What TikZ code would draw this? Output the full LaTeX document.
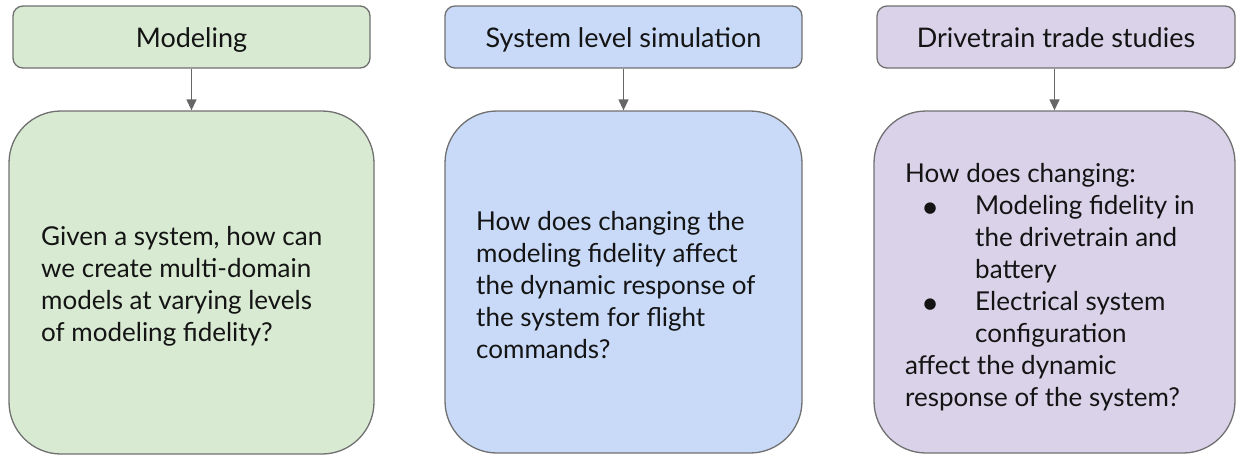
\documentclass[tikz,border=0pt]{standalone}
\usepackage{fontspec}
\setmainfont{Lato}
\newfontfamily\dejavu{DejaVu Sans}
\usetikzlibrary{arrows.meta}
\definecolor{gfill}{HTML}{D9EAD3}
\definecolor{bfill}{HTML}{C9DAF8}
\definecolor{pfill}{HTML}{D9D2E9}
\definecolor{bordc}{HTML}{707070}
\definecolor{arrc}{HTML}{666666}
\definecolor{txtc}{HTML}{141414}
\newcommand{\bul}{\makebox[0pt][c]{\raisebox{1.5pt}{\dejavu\fontsize{15}{15}\selectfont ●}}}
\tikzset{
  headbox/.style={draw=bordc, line width=1.3pt, rounded corners=10pt, minimum width=357pt, minimum height=62pt, inner sep=0pt, text height=25pt, text depth=5pt, font=\fontsize{27}{32}\selectfont, text=txtc},
  bodybox/.style={draw=bordc, line width=1.3pt, rounded corners=52pt, inner sep=0pt},
  bodytext/.style={anchor=base west, inner sep=0pt, font=\fontsize{26}{32}\selectfont, text=txtc},
  conn/.style={draw=arrc, line width=1.3pt, -{Triangle[width=10pt,length=11pt]}}
}
\begin{document}
\begin{tikzpicture}[x=1pt,y=-1pt]
\useasboundingbox (0,0) rectangle (1236,455);
% header boxes
\node[headbox, fill=gfill] (h1) at (191.5,37) {Modeling};
\node[headbox, fill=bfill] (h2) at (623.5,37) {System level simulation};
\node[headbox, fill=pfill, minimum width=358pt] (h3) at (1056,37) {Drivetrain trade studies};
% body boxes
\node[bodybox, fill=gfill, minimum width=365pt, minimum height=343pt] (b1) at (191.5,282.5) {};
\node[bodybox, fill=bfill, minimum width=357pt, minimum height=342pt] (b2) at (623.5,282) {};
\node[bodybox, fill=pfill, minimum width=361pt, minimum height=342pt] (b3) at (1054.5,282) {};
% connectors
\draw[conn] (h1.south) -- (b1.north);
\draw[conn] (h2.south) -- (b2.north);
\draw[conn] (h3.south -| b3.north) -- (b3.north);
% body texts
\node[bodytext] (t1) at (41,245) {\parbox[t]{330pt}{Given a system, how can\\
we create multi-domain\\
models at varying levels\\
of modeling fidelity?}};
\node[bodytext] (t2) at (476,230) {\parbox[t]{330pt}{How does changing the\\
modeling fidelity affect\\
the dynamic response of\\
the system for flight\\
commands?}};
\node[bodytext] (t3) at (905,182) {\parbox[t]{330pt}{How does changing:\\
\hspace*{25pt}\bul\hspace*{45pt}Modeling fidelity in\\
\hspace*{70pt}the drivetrain and\\
\hspace*{70pt}battery\\
\hspace*{25pt}\bul\hspace*{45pt}Electrical system\\
\hspace*{70pt}configuration\\
affect the dynamic\\
response of the system?}};
\end{tikzpicture}
\end{document}
